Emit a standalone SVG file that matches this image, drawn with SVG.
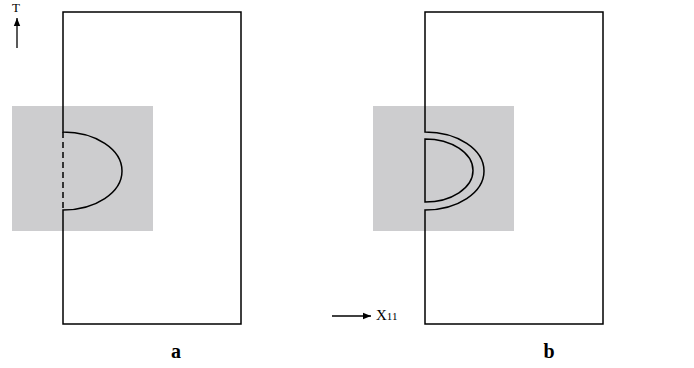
<svg xmlns="http://www.w3.org/2000/svg" width="694" height="368" viewBox="0 0 694 368">
<style>
.ln{fill:none;stroke:#000;stroke-width:1.5}
.gray{fill:#cdcdcf}
.lbl{font-family:"Liberation Serif","DejaVu Serif",serif;font-weight:bold;font-size:20px}
.ax{font-family:"Liberation Serif","DejaVu Serif",serif;fill:#000}
</style>
<defs>
<marker id="ah" viewBox="0 0 10 10" refX="10" refY="5" markerWidth="8" markerHeight="8" markerUnits="userSpaceOnUse" orient="auto"><path d="M0,1 L10,5 L0,9 z" fill="#000"/></marker>
</defs>
<g id="panel-a">
<rect class="gray" x="12" y="106" width="141" height="125"/>
<path class="ln" d="M63,12 H241 V324 H63 V210 A59,39 0 0 0 63,132 Z"/>
<line class="ln" x1="63" y1="132" x2="63" y2="210" stroke-dasharray="6,4" stroke-width="1.2"/>
<text class="lbl" x="176" y="358" text-anchor="middle">a</text>
</g>
<g id="panel-b">
<rect class="gray" x="373" y="106" width="141" height="125"/>
<path class="ln" d="M425,12 H603 V324 H425 V210 A59,39 0 0 0 425,132 Z"/>
<path class="ln" d="M425,139 A48,31.5 0 0 1 425,202 Z"/>
<text class="lbl" x="549" y="358" text-anchor="middle">b</text>
</g>
<g id="axes">
<line x1="17" y1="48" x2="17" y2="18" stroke="#000" stroke-width="1.3" marker-end="url(#ah)"/>
<text class="ax" x="12" y="12" font-size="13">T</text>
<line x1="332" y1="316" x2="371" y2="316" stroke="#000" stroke-width="1.3" marker-end="url(#ah)"/>
<text class="ax" x="376" y="320" font-size="15">X<tspan font-size="11">11</tspan></text>
</g>
</svg>
